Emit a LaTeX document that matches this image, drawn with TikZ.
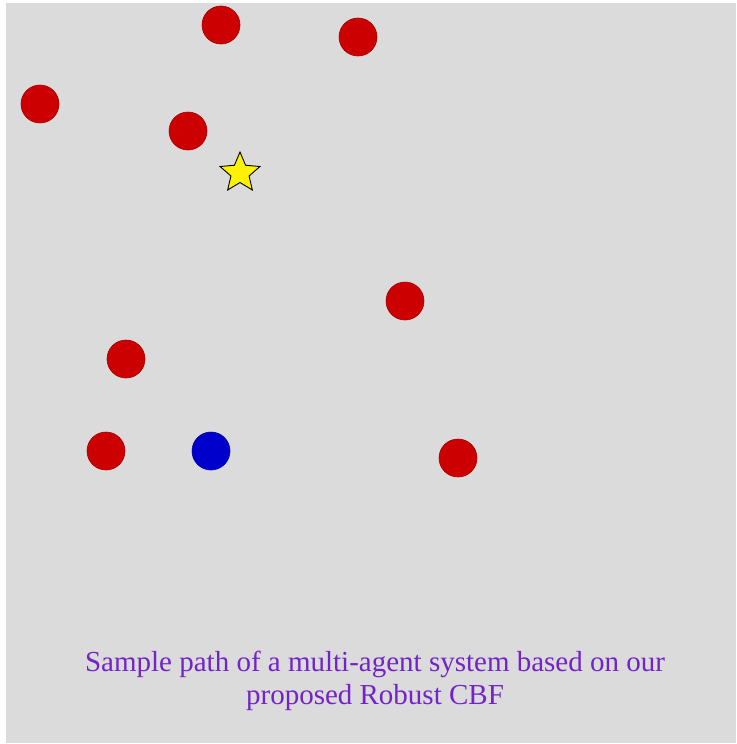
\documentclass[tikz,border=0pt]{standalone}
\usepackage{fontspec}
\setmainfont{Liberation Serif}
\usetikzlibrary{shapes, shapes.geometric}
\definecolor{agentred}{RGB}{204,0,0}
\definecolor{agentblue}{RGB}{0,0,204}
\definecolor{bggray}{RGB}{219,219,219}
\definecolor{capviolet}{RGB}{115,35,200}
\tikzset{
  big obst/.style={circle, fill=agentred, draw=agentred!80!black, line width=0.6, minimum size=38, inner sep=0,},
  big agent/.style={circle, fill=agentblue, draw=agentblue!80!black, line width=0.6, minimum size=38, inner sep=0,},
  big goal/.style={star, star points=5, star point ratio=2.2, fill=yellow, draw=black, line width=0.9, minimum size=42, inner sep=0,},
  lbl cap/.style={font=\fontsize{29}{33}\selectfont, text=capviolet, align=center, inner sep=0,}
}

\begin{document}
\begin{tikzpicture}[x=1pt, y=-1pt]
\useasboundingbox (0,0) rectangle (736,744);
\fill[bggray] (6,3) rectangle (736,743);

\node[big obst] (o1) at (221,25) {};
\node[big obst] (o2) at (358,37) {};
\node[big obst] (o3) at (40,104) {};
\node[big obst] (o4) at (188,131) {};
\node[big obst] (o5) at (405,301) {};
\node[big obst] (o6) at (126,359) {};
\node[big obst] (o7) at (106,451) {};
\node[big obst] (o8) at (458,458) {};
\node[big agent] (a1) at (211,451) {};
\node[big goal] (g1) at (240,173) {};

\node[lbl cap] (cap) at (375,681) {Sample path of a multi-agent system based on our\\proposed Robust CBF};

\end{tikzpicture}
\end{document}
